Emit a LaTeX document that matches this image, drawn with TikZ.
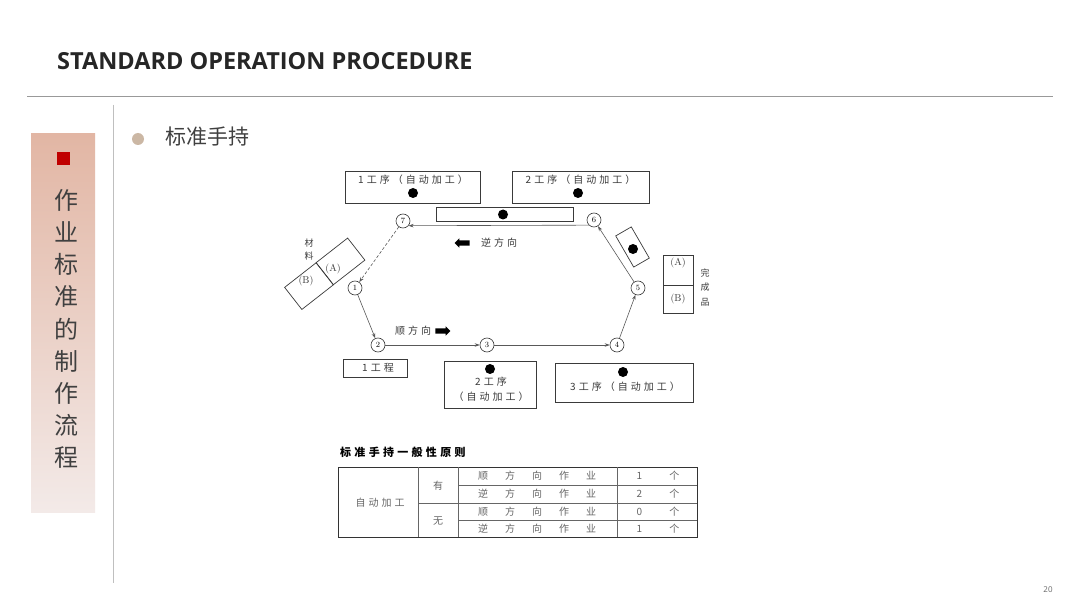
\documentclass[tikz,border=0pt]{standalone}
\usepackage{fontspec}
\usepackage{xcolor}
\usepackage{tikz}
\usetikzlibrary{arrows.meta, shapes.arrows}

\newfontfamily\titlefont{Open Sans}
\newfontfamily\cjk{Noto Sans CJK SC}
\newfontfamily\cjkwide{Noto Sans CJK SC}[LetterSpace=30]
\newcommand{\gap}{\hspace{17pt}}

\definecolor{barTop}{HTML}{E2B6A4}
\definecolor{barBot}{HTML}{F3EAE8}
\definecolor{markRed}{HTML}{C00000}
\definecolor{bulletTan}{HTML}{CBB7A4}
\definecolor{ink}{HTML}{3A3A3A}

\begin{document}
\begin{tikzpicture}[
    x=1pt, y=-1pt,
    box/.style={rectangle, draw=ink, line width=0.7pt, inner sep=0pt},
    lbl/.style={inner sep=0pt, text=ink, font=\cjkwide\fontsize{10}{12}\selectfont},
    dot/.style={circle, fill=black, minimum size=10pt, inner sep=0pt},
    stn/.style={circle, draw=ink, line width=0.6pt, fill=white, minimum size=14pt, inner sep=0pt, font=\rmfamily\fontsize{8}{8}\selectfont},
    flow/.style={-{Stealth[length=5pt, width=3.5pt]}, draw=black!65, line width=0.6pt},
    blk/.style={single arrow, fill=black, minimum height=15pt, single arrow head extend=2pt, inner xsep=0pt, inner ysep=2.5pt},
    ab/.style={inner sep=0pt, text=ink, font=\rmfamily\fontsize{10}{10}\selectfont},
    tcell/.style={inner sep=0pt, text=black!60, font=\cjk\fontsize{10}{12}\selectfont},
]
\useasboundingbox (0,0) rectangle (1080,607);
\fill[white] (0,0) rectangle (1080,607);

% header
\node[anchor=west, inner sep=0pt, text=black!85, font=\titlefont\bfseries\fontsize{23.5}{27}\selectfont] (title) at (57,61) {STANDARD OPERATION PROCEDURE};
\draw[black!40, line width=0.8pt] (27,96) -- (1053,96);
\draw[black!25, line width=0.8pt] (113,105) -- (113,583);

% side bar
\shade[top color=barTop, bottom color=barBot] (31,134) rectangle (95,512);
\fill[markRed] (57,152) rectangle (70,165);
\node[inner sep=0pt, anchor=north, align=center, text=black!75, font=\cjk\fontsize{24}{32.2}\selectfont] (side) at (66,189) {作\\业\\标\\准\\的\\制\\作\\流\\程};

% sub heading
\fill[bulletTan] (138,139) circle (6);
\node[anchor=west, inner sep=0pt, text=black!75, font=\cjk\fontsize{21}{24}\selectfont] (head) at (165,137) {标准手持};

% machines
\node[box, minimum width=135pt, minimum height=32pt] (p1) at (413,187.5) {};
\node[lbl] (p1t) at (413,180) {1工序（自动加工）};
\node[dot] (p1d) at (413,193) {};
\node[box, minimum width=137pt, minimum height=32pt] (p2) at (580.5,187.5) {};
\node[lbl] (p2t) at (580.5,180) {2工序（自动加工）};
\node[dot] (p2d) at (578,193) {};
\node[box, minimum width=137pt, minimum height=14pt] (pm) at (504.5,214.5) {};
\node[dot] (pmd) at (503,214.5) {};

\node[box, minimum width=64pt, minimum height=18pt] (w1) at (375,368) {};
\node[lbl] (w1t) at (378,368) {1工程};
\node[box, minimum width=92pt, minimum height=47pt] (w2) at (490,384.5) {};
\node[dot] (w2d) at (490,369) {};
\node[lbl] (w2t) at (491,382) {2工序};
\node[lbl] (w2u) at (491,397) {（自动加工）};
\node[box, minimum width=138pt, minimum height=39pt] (w3) at (624,382.5) {};
\node[dot] (w3d) at (623,372) {};
\node[lbl] (w3t) at (625,387) {3工序（自动加工）};

% material
\node[box, rotate=38, minimum width=40pt, minimum height=28pt] (ma) at (340.5,261.4) {};
\node[box, rotate=38, minimum width=40pt, minimum height=28pt] (mb) at (309,286.1) {};
\node[ab] (mat) at (333,269) {(A)};
\node[ab] (mbt) at (306,281) {(B)};
\node[lbl, font=\cjk\fontsize{9}{11}\selectfont] (mat1) at (309,243) {材};
\node[lbl, font=\cjk\fontsize{9}{11}\selectfont] (mat2) at (309,256) {料};

% products
\node[box, minimum width=30pt, minimum height=30pt] (fa) at (678,270) {};
\node[box, minimum width=30pt, minimum height=28pt] (fb) at (678,299) {};
\node[ab] (fat) at (678,263) {(A)};
\node[ab] (fbt) at (678,299) {(B)};
\node[lbl, font=\cjk\fontsize{9}{11}\selectfont] (fin1) at (705,273) {完};
\node[lbl, font=\cjk\fontsize{9}{11}\selectfont] (fin2) at (705,287) {成};
\node[lbl, font=\cjk\fontsize{9}{11}\selectfont] (fin3) at (705,302) {品};

% chute
\node[box, rotate=-60, minimum width=36pt, minimum height=18pt] (chute) at (632.5,247) {};
\node[dot] (chd) at (633,249) {};

% stations
\node[stn] (s1) at (355,288) {1};
\node[stn] (s2) at (378,345) {2};
\node[stn] (s3) at (487,345) {3};
\node[stn] (s4) at (617,345) {4};
\node[stn] (s5) at (638,288) {5};
\node[stn] (s6) at (594,220) {6};
\node[stn] (s7) at (403,221) {7};

\draw[flow] (s1) -- (s2);
\draw[flow] (s2) -- (s3);
\draw[flow] (s3) -- (s4);
\draw[flow] (s4) -- (s5);
\draw[flow] (s5) -- (s6);
\draw[flow] (s6.-135) -- (s7.-40);
\draw[flow, densely dashed] (s7) -- (s1);

% direction marks
\node[blk, shape border rotate=180] (back) at (463.5,243) {};
\node[lbl] (backt) at (499,243) {逆方向};
\node[blk] (fwd) at (441.5,331) {};
\node[lbl] (fwdt) at (413,331) {顺方向};

% rule table
\node[anchor=west, inner sep=0pt, text=black, font=\cjkwide\bfseries\fontsize{11}{13}\selectfont] (rule) at (340,452) {标准手持一般性原则};
\draw[black!80, line width=1pt] (338,467) rectangle (697,537);
\draw[black!60, line width=0.5pt] (418,467) -- (418,537);
\draw[black!60, line width=0.5pt] (458,467) -- (458,537);
\draw[black!60, line width=0.5pt] (617,467) -- (617,537);
\draw[black!60, line width=0.5pt] (418,503) -- (697,503);
\draw[black!60, line width=0.5pt] (458,485) -- (697,485);
\draw[black!60, line width=0.5pt] (458,520) -- (697,520);

\node[tcell] (auto) at (380,503) {自\hspace{3pt}动\hspace{3pt}加\hspace{3pt}工};
\node[tcell] (has) at (438,486) {有};
\node[tcell] (none) at (438,521) {无};
\node[tcell] (r1) at (537,476) {顺\gap 方\gap 向\gap 作\gap 业};
\node[tcell] (r2) at (537,494) {逆\gap 方\gap 向\gap 作\gap 业};
\node[tcell] (r3) at (537,511.5) {顺\gap 方\gap 向\gap 作\gap 业};
\node[tcell] (r4) at (537,528.5) {逆\gap 方\gap 向\gap 作\gap 业};
\node[tcell] (c1) at (658,476) {1\hspace{27pt}个};
\node[tcell] (c2) at (658,494) {2\hspace{27pt}个};
\node[tcell] (c3) at (658,511.5) {0\hspace{27pt}个};
\node[tcell] (c4) at (658,528.5) {1\hspace{27pt}个};

% page
\node[inner sep=0pt, text=black!60, font=\titlefont\fontsize{8}{9}\selectfont] (page) at (1048,590) {20};

\end{tikzpicture}
\end{document}
